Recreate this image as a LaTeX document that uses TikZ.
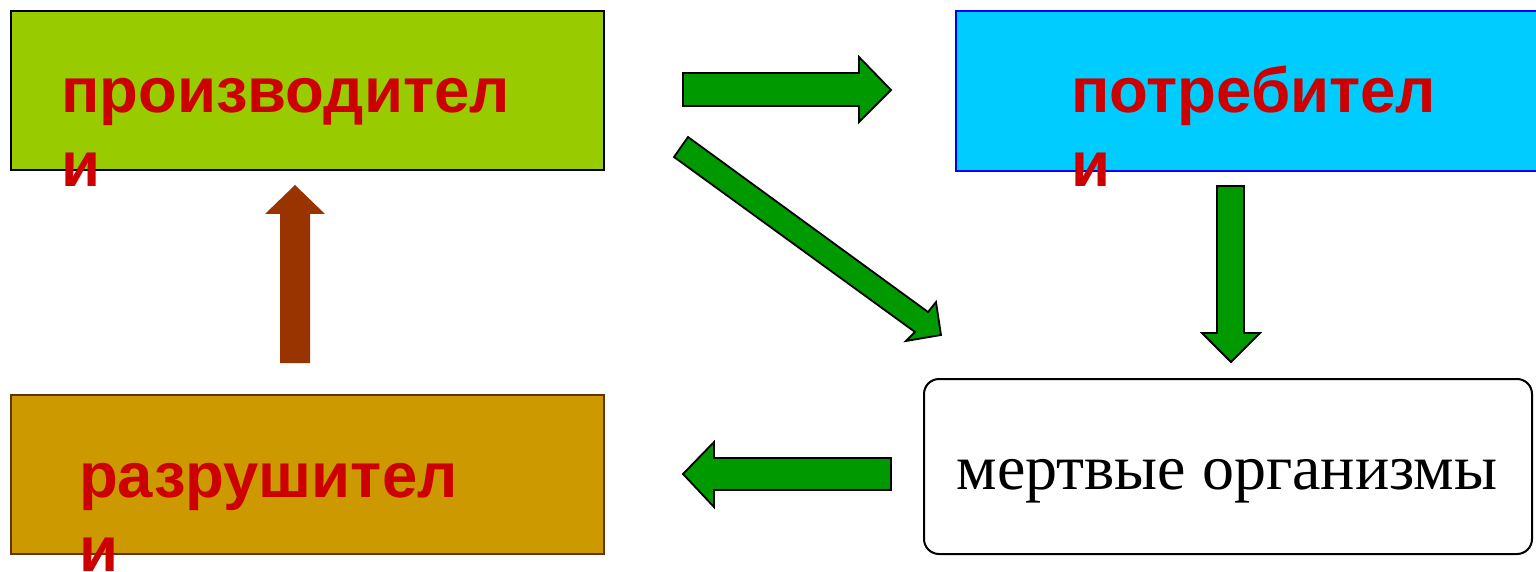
\documentclass[tikz,border=0pt]{standalone}
\usepackage{fontspec}
\setmainfont{Liberation Serif}
\newfontfamily\labelfont{Liberation Sans}
\definecolor{prodgreen}{HTML}{99CC00}
\definecolor{conscyan}{HTML}{00CCFF}
\definecolor{consblue}{HTML}{0000FF}
\definecolor{decgold}{HTML}{CC9900}
\definecolor{decborder}{HTML}{663300}
\definecolor{labelred}{HTML}{CC0000}
\definecolor{arrgreen}{HTML}{009900}
\definecolor{arrbrown}{HTML}{993300}
\tikzset{
  boxstyle/.style={rectangle, inner sep=0pt, line width=2pt},
  biglabel/.style={anchor=base west, inner sep=0pt, text=labelred,
    font=\labelfont\bfseries\fontsize{63.5}{74}\selectfont},
  greenarrow/.style={fill=arrgreen, draw=black, line width=1.8pt, line join=miter},
  brownarrow/.style={fill=arrbrown, draw=none},
}
\begin{document}
\begin{tikzpicture}[x=1pt,y=-1pt]
\useasboundingbox (0,0) rectangle (1536,572);
% boxes
\node[boxstyle, draw=black, fill=prodgreen, minimum width=593pt, minimum height=159pt, anchor=north west] (prod) at (10,10) {};
\node[boxstyle, draw=consblue, fill=conscyan, minimum width=600pt, minimum height=160pt, anchor=north west] (cons) at (955,10) {};
\node[boxstyle, draw=decborder, fill=decgold, minimum width=593pt, minimum height=159pt, anchor=north west] (dec) at (10,394) {};
\node[boxstyle, draw=black, fill=white, rounded corners=15pt, minimum width=608pt, minimum height=175pt, anchor=north west] (dead) at (923,378) {};
% labels
\node[biglabel] (prodtext) at (61,113) {\vtop{\hbox{производител}\hbox{и}}};
\node[biglabel] (constext) at (1071,113) {\vtop{\hbox{потребител}\hbox{и}}};
\node[biglabel] (dectext) at (79,497) {\vtop{\hbox{разрушител}\hbox{и}}};
\node[anchor=base, inner sep=0pt, font=\fontsize{64}{74}\selectfont] (deadtext) at (1227,489) {мертвые организмы};
% arrows
\draw[greenarrow] (683,73) -- (859,73) -- (859,57) -- (891,90) -- (859,122) -- (859,106) -- (683,106) -- cycle;
\draw[greenarrow] (688,137) -- (928,312) -- (936,302) -- (941,335) -- (906,341) -- (915,332) -- (674,157) -- cycle;
\draw[greenarrow] (1217,186) -- (1244,186) -- (1244,333) -- (1260,333) -- (1231,362) -- (1202,333) -- (1217,333) -- cycle;
\fill[brownarrow] (280,363) -- (280,214) -- (265,214) -- (295,185) -- (325,214) -- (310,214) -- (310,363) -- cycle;
\draw[greenarrow] (891,458) -- (714,458) -- (714,442) -- (683,474) -- (714,507) -- (714,490) -- (891,490) -- cycle;
\end{tikzpicture}
\end{document}
